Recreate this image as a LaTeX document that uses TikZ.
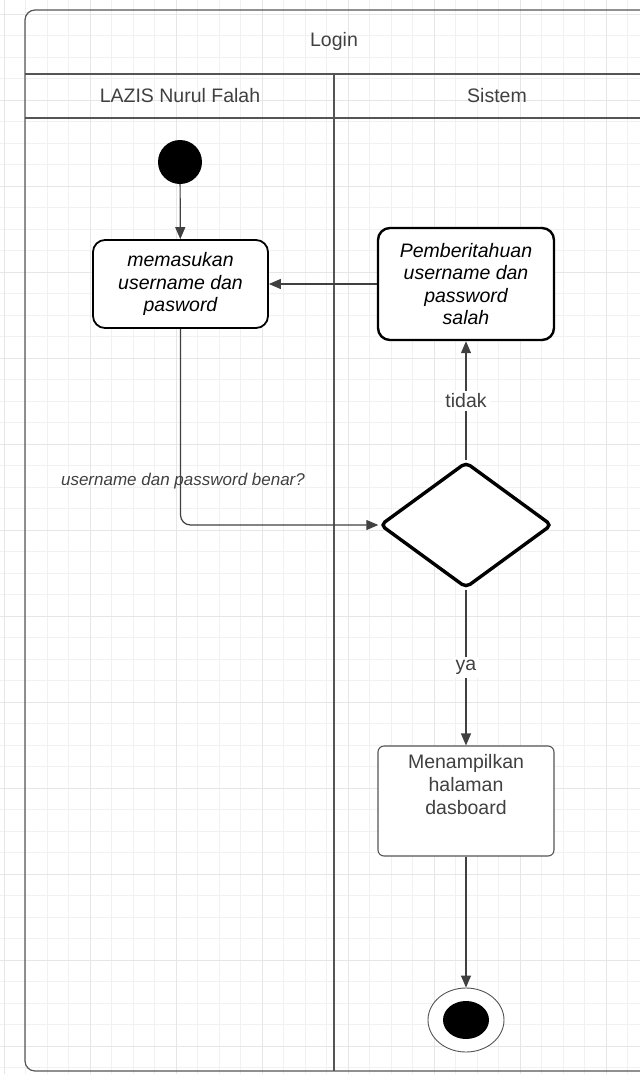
\documentclass[tikz,border=0pt]{standalone}
\usepackage{fontspec}
\setmainfont{Liberation Sans}
\definecolor{LUCline}{HTML}{555555}
\definecolor{LUCarrow}{HTML}{404040}
\definecolor{LUCgrid}{HTML}{F1F1F1}
\definecolor{LUCgridmajor}{HTML}{E6E6E6}
\usetikzlibrary{shapes.geometric, arrows.meta, positioning}
\tikzset{
   actbox/.style={draw=black, line width=1.8pt, rounded corners=12pt, fill=white,
      align=center, font=\fontsize{19.5}{22.5}\selectfont\itshape},
   notebox/.style={actbox, line width=2.4pt},
   plainbox/.style={draw=LUCline, line width=1.1pt, rounded corners=6pt, fill=white},
   boxtext/.style={align=center, text=LUCarrow, font=\fontsize{19.5}{23}\selectfont},
   decision/.style={diamond, draw=black, line width=3.4pt, rounded corners=5pt, fill=white},
   flow/.style={draw=LUCarrow, line width=1.2pt, -{Triangle[length=12pt,width=10pt]}},
   lanetext/.style={text=LUCarrow, font=\fontsize{19.5}{22}\selectfont}
}
\begin{document}
\begin{tikzpicture}[x=1pt, y=-1pt]
            \useasboundingbox (0,0) rectangle (640,1074);
            \clip (0,0) rectangle (640,1074);
            % Canvas grid
            \foreach \g in {4,25.5,...,640} \draw[LUCgrid, line width=0.7pt] (\g,0) -- (\g,1074);
            \foreach \g in {14,35.5,...,1074} \draw[LUCgrid, line width=0.7pt] (0,\g) -- (640,\g);
            \foreach \g in {4,90,...,640} \draw[LUCgridmajor, line width=0.9pt] (\g,0) -- (\g,1074);
            \foreach \g in {14,100,...,1074} \draw[LUCgridmajor, line width=0.9pt] (0,\g) -- (640,\g);
            % Pool and lanes
            \draw[LUCline, line width=1.2pt, rounded corners=10pt] (660,10) -- (25,10) -- (25,1071) -- (660,1071);
            \draw[LUCline, line width=1.2pt] (25,74) -- (660,74);
            \draw[LUCline, line width=1.2pt] (25,118) -- (660,118);
            \draw[LUCline, line width=1.2pt] (334,74) -- (334,1071);
            \node[lanetext] (pool) at (334,41) {Login};
            \node[lanetext] (laneA) at (180,96) {LAZIS Nurul Falah};
            \node[lanetext] (laneB) at (497,96) {Sistem};
            % Start and end
            \node[circle, fill=black, minimum size=44pt, inner sep=0pt] (start) at (180,162) {};
            \node[ellipse, draw=LUCline, line width=0.9pt, fill=white, minimum width=76pt, minimum height=64pt] (stop) at (466,1020) {};
            \node[ellipse, fill=black, minimum width=46pt, minimum height=38pt, inner sep=0pt] (stopdot) at (stop) {};
            % Actions
            \node[actbox, minimum width=175pt, minimum height=88pt] (enter) at (180.5,284) {memasukan\\username dan\\pasword};
            \node[notebox, minimum width=176pt, minimum height=112pt] (wrong) at (466,284) {Pemberitahuan\\username dan\\password\\salah};
            \node[decision, minimum width=172pt, minimum height=126pt] (check) at (466,525) {};
            \node[plainbox, minimum width=176pt, minimum height=110pt] (dash) at (466,801) {};
            \node[boxtext, below=5pt of dash.north] (dashtext) {Menampilkan\\halaman\\dasboard};
            % Flows
            \draw[flow] (start) -- (enter);
            \draw[flow] (wrong) -- (enter);
            \draw[flow, rounded corners=10pt] (enter.south) |- (check.west);
            \draw[flow] (check.north) -- node[fill=white, lanetext, inner sep=3pt] {tidak} (wrong.south);
            \draw[flow] (check.south) -- node[fill=white, lanetext, inner sep=3pt] {ya} (dash.north);
            \draw[flow] (dash.south) -- (stop.north);
            \node[text=LUCarrow, font=\fontsize{17}{20}\selectfont\itshape] (question) at (183,481) {username dan password benar?};
         \end{tikzpicture}
\end{document}
